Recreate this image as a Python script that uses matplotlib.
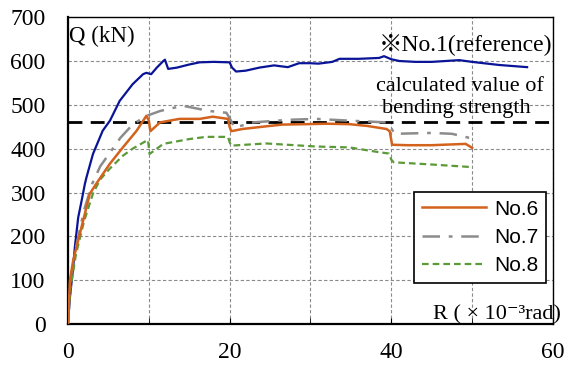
import matplotlib.pyplot as plt
from matplotlib.ticker import MultipleLocator

# No.1 (reference)
r1 = [0, 0.25, 0.65, 0.86, 1.27, 1.7, 2.1, 2.3, 3.1, 4.3, 5.2, 6.4, 8.0, 9.3, 9.7, 10.3, 11.0, 11.8, 12.0, 12.4,
      13.5, 15, 16.3, 18, 20, 20.3, 20.8, 22, 23.7, 25.5, 27.2, 28.6, 29.9, 31, 32.7, 33.6, 36, 38.5, 39.1, 40,
      41, 43, 45, 48.4, 50, 53.3, 56.8]
q1 = [0, 61, 130, 176, 243, 282, 320, 335, 388, 441, 464, 509, 547, 570, 573, 570, 585, 600, 603, 582,
      585, 592, 597, 598, 597, 585, 576, 578, 585, 590, 586, 595, 595, 594, 598, 605, 605, 607, 611, 604,
      600, 598, 598, 602, 598, 591, 586]

# No.6
r6 = [0, 0.1, 0.25, 0.65, 1.27, 2.1, 2.7, 3.5, 5.2, 6.8, 8.5, 9.7, 10.0, 10.2, 11.4, 13.8, 16.3, 17.9, 19.8,
      20.0, 20.2, 21.6, 24, 26.5, 29.5, 32, 34.8, 37, 39.4, 39.8, 40.1, 42, 45, 49.2, 50]
q6 = [0, 39, 100, 145, 191, 252, 297, 320, 366, 403, 441, 475, 465, 440, 460, 468, 468, 473, 468,
      450, 440, 445, 450, 455, 456, 457, 456, 452, 445, 440, 409, 408, 408, 411, 402]

# No.7
r7 = [0, 0.3, 1, 2, 3, 4, 5.2, 6.5, 8, 9.7, 10.2, 11.4, 14.2, 17.5, 19.6, 20.0, 20.6, 22.9, 27.4, 30.7,
      34.8, 39.4, 39.9, 40.4, 45, 47.5, 49.6, 50]
q7 = [0, 100, 175, 260, 320, 360, 391, 425, 455, 475, 478, 486, 498, 486, 482, 470, 448, 460, 466, 468,
      464, 460, 450, 434, 436, 434, 425, 425]

# No.8
r8 = [0, 0.3, 1, 2, 3.1, 4, 5.2, 6.8, 8, 9.7, 9.9, 10.1, 11.8, 15, 17.1, 19.8, 20.0, 20.2, 24.5, 30.7,
      34.8, 38.5, 39.7, 40.0, 40.3, 45, 50]
q8 = [0, 80, 160, 235, 298, 330, 355, 384, 400, 418, 420, 388, 411, 422, 427, 427, 415, 407, 412, 405,
      403, 392, 389, 375, 369, 364, 358]

bending_strength = 460

plt.rcParams['font.family'] = ['Liberation Serif', 'DejaVu Serif']
plt.rcParams['font.size'] = 16

fig = plt.figure(figsize=(5.66, 3.65), dpi=100)
ax = fig.add_axes([0.120, 0.112, 0.857, 0.841])

ax.axhline(bending_strength, color='black', lw=2.0, dashes=(5, 3), zorder=3)
ax.plot(r1, q1, color='#0a1496', lw=1.6, zorder=4)
ax.plot(r6, q6, color='#d2621c', lw=1.8, label='No.6', zorder=5)
ax.plot(r7, q7, color='#8c8c8c', lw=1.8, dashes=(7, 3.5, 1.5, 3.5), label='No.7', zorder=4)
ax.plot(r8, q8, color='#5b9a38', lw=1.6, dashes=(3, 1.8), label='No.8', zorder=4)

ax.set_xlim(0, 60)
ax.set_ylim(0, 700)
ax.xaxis.set_major_locator(MultipleLocator(20))
ax.xaxis.set_minor_locator(MultipleLocator(10))
ax.yaxis.set_major_locator(MultipleLocator(100))
ax.tick_params(axis='x', which='both', direction='in', length=4, pad=13, labelsize=17)
ax.tick_params(axis='y', which='both', direction='in', length=0, pad=16, labelsize=17)
ax.grid(True, which='both', color='#8a8a8a', ls=(0, (3, 2)), lw=0.8)
ax.set_axisbelow(True)

for s in ['left', 'bottom']:
    ax.spines[s].set_linewidth(1.6)
for s in ['top', 'right']:
    ax.spines[s].set_linewidth(1.0)

ax.text(0.1, 657, 'Q (kN)', ha='left', va='center', fontsize=16.5)
ax.text(59.9, 639, '※No.1(reference)', ha='right', va='center', fontsize=17,
        family=['Liberation Serif', 'Noto Sans CJK JP'])
ax.text(48.5, 543, 'calculated value of', ha='center', va='center', fontsize=16)
ax.text(48.1, 491, 'bending strength', ha='center', va='center', fontsize=16)
ax.text(45.2, 20, 'R ( × 10⁻³rad)', ha='left', va='center', fontsize=16, clip_on=False,
        family=['Liberation Serif', 'DejaVu Serif'])

leg = ax.legend(loc='upper right', bbox_to_anchor=(0.986, 0.429), borderaxespad=0,
                fancybox=False, edgecolor='black', framealpha=1, handlelength=3.1,
                prop={'family': 'Liberation Sans', 'size': 15},
                borderpad=0.35, labelspacing=0.45, handletextpad=0.4)
leg.get_frame().set_linewidth(1.2)

fig.savefig('out.png', dpi=100)
